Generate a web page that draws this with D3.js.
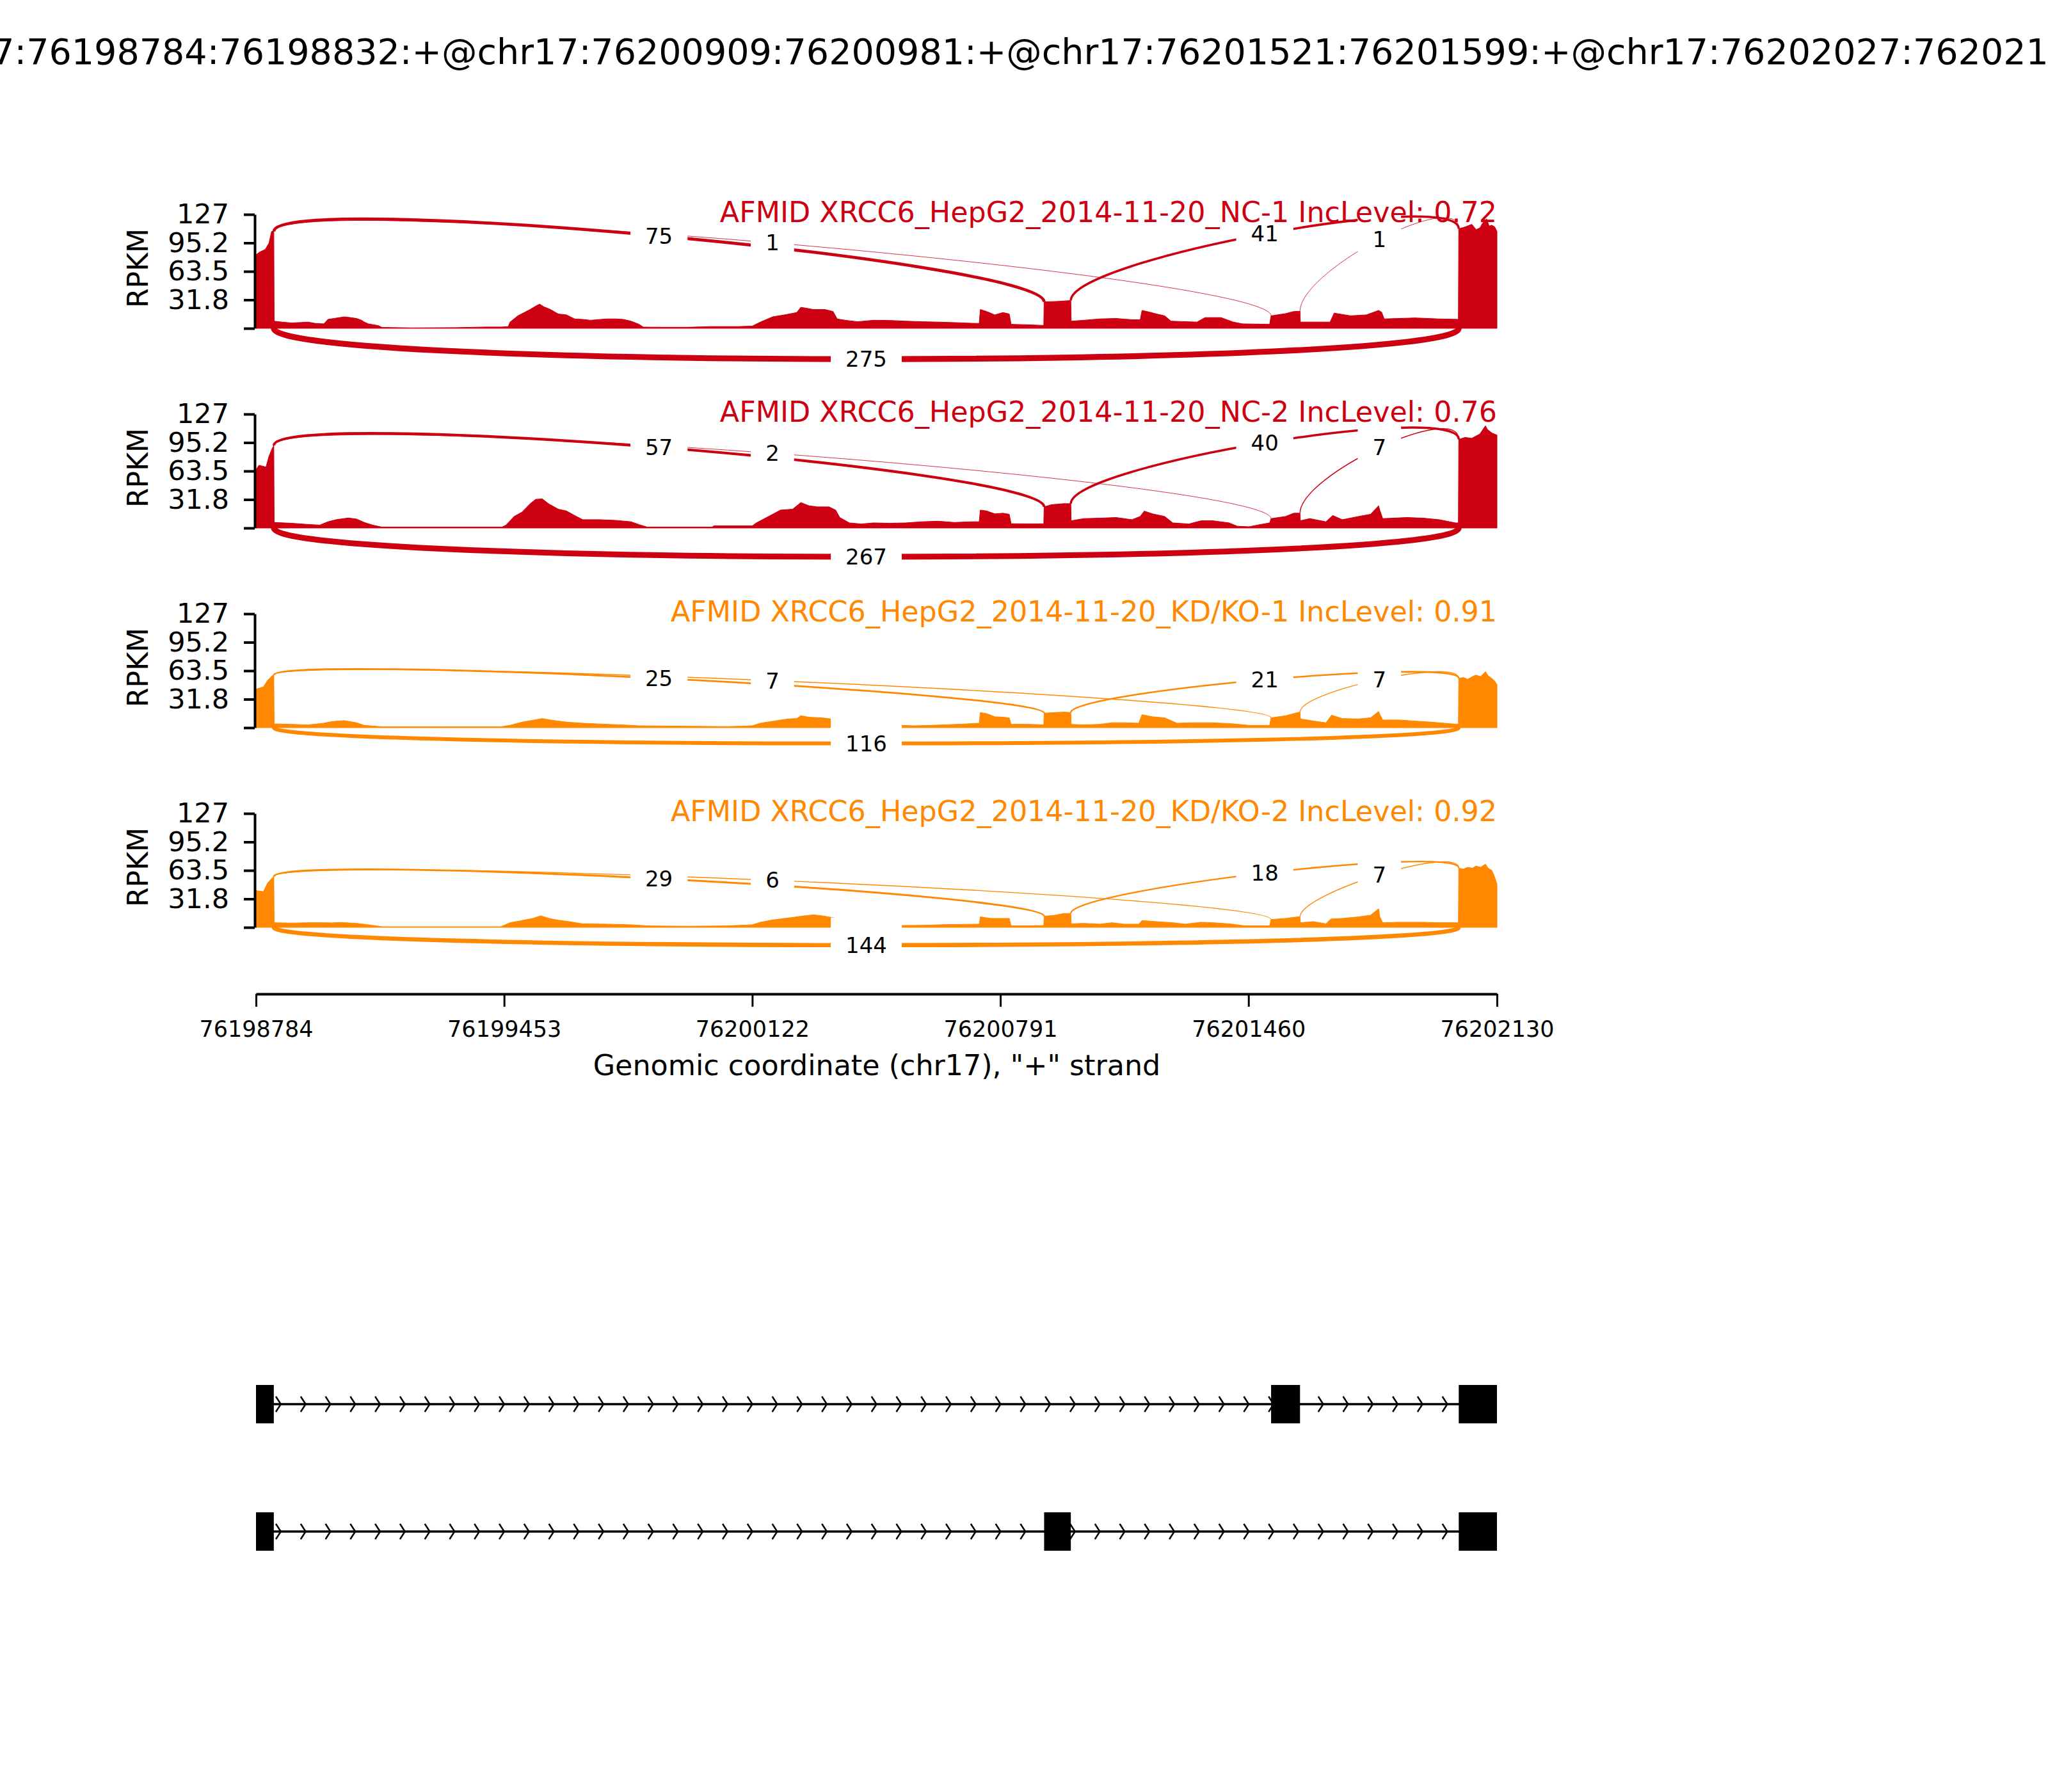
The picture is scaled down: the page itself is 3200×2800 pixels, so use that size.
<!DOCTYPE html>
<html><head><meta charset="utf-8">
<script src="https://cdn.jsdelivr.net/npm/d3@7"></script>
<style>
body{margin:0;background:#fff}
text{font-family:"DejaVu Sans",sans-serif}
</style>
</head><body>
<svg id="c" width="3200" height="2800" xmlns="http://www.w3.org/2000/svg"></svg>
<script>
// ---------------- data ----------------
const START = 76198784, END = 76202130;
const eventTitle = "chr17:76198784:76198832:+@chr17:76200909:76200981:+@chr17:76201521:76201599:+@chr17:76202027:76202130:+";
const exons = [[76198784,76198832],[76200909,76200981],[76201521,76201599],[76202027,76202130]];
const isoformExons = [[0,2,3],[0,1,3]];
const xTickValues = [76198784, 76199453, 76200122, 76200791, 76201460, 76202130];
const yTickValues = [0, 31.75, 63.5, 95.25, 127];
const yTickLabels = ["", "31.8", "63.5", "95.2", "127"];
const sampleNames = ["AFMID XRCC6_HepG2_2014-11-20_NC-1","AFMID XRCC6_HepG2_2014-11-20_NC-2","AFMID XRCC6_HepG2_2014-11-20_KD/KO-1","AFMID XRCC6_HepG2_2014-11-20_KD/KO-2"];
const incLevels = ["0.72","0.76","0.91","0.92"];
const sampleColors = ["#CC0011","#CC0011","#FF8800","#FF8800"];
// junctions: [upstream exon index, downstream exon index, below?]
const junctions = [[0,1,false],[0,2,false],[1,3,false],[2,3,false],[0,3,true]];
const junctionCounts = [
  [75,1,41,1,275],
  [57,2,40,7,267],
  [25,7,21,7,116],
  [29,6,18,7,144]
];
// coverage: [bp offset from START, RPKM]
const covNC1 = [[0,82],[10,85],[25,88],[35,95],[42,108],[48,108],[49,8],[70,7],[96,6],[120,6.5],[140,7],[160,5.5],[183,5],[194,10],[210,11],[238,12.8],[255,12],[271,11],[285,9],[292,7],[303,5],[330,3],[340,1],[420,0.5],[540,0.8],[620,1.5],[663,1.5],[680,2],[685,7],[706,14],[725,18],[739,21],[755,25],[765,27],[776,24],[794,21],[815,16],[837,15],[859,10.5],[880,10],[902,9],[930,10],[946,10.5],[970,10.5],[990,10],[1011,8],[1033,4.5],[1044,1.4],[1100,1.2],[1164,1.2],[1229,2],[1300,2],[1338,2.5],[1360,7],[1393,12.8],[1425,15],[1458,17.6],[1469,23.5],[1490,22],[1502,21],[1534,21],[1556,18.8],[1567,10.5],[1589,9],[1622,7.4],[1665,9],[1709,8.8],[1752,8],[1796,7.4],[1839,7],[1883,6.4],[1927,5.7],[1950,5.5],[1953,21],[1970,18.8],[1992,15],[2014,17.6],[2031,16],[2036,4.5],[2080,4],[2124,3.3],[2125,29.5],[2160,30],[2197,31],[2198,8],[2232,9],[2275,10.5],[2319,11],[2362,9.6],[2384,9.5],[2389,20],[2410,18],[2428,16],[2450,14],[2467,8],[2537,7],[2559,12],[2602,12],[2635,7],[2660,5],[2733,4.5],[2737,14],[2776,16.4],[2798,18.8],[2815,19],[2816,7],[2896,7],[2907,17],[2951,14],[2994,15],[3027,20],[3035,18],[3042,10.5],[3125,11.6],[3190,10.5],[3242,10],[3243,111],[3260,113],[3278,116],[3290,110],[3300,112],[3310,119],[3318,122],[3325,114],[3332,115],[3340,113],[3346,108]];
const covNC2 = [[0,65],[8,70],[27,68],[35,80],[44,89],[48,92],[49,6.2],[96,5.3],[140,4],[172,3.3],[194,7],[216,9.3],[249,11.2],[271,10],[292,6.2],[314,3.3],[340,1],[500,1],[663,1],[674,3.3],[696,12.9],[717,17.7],[739,27],[754,32],[772,32.5],[789,27],[815,21],[837,19],[859,14],[881,9.3],[924,9.3],[968,8.6],[1011,7],[1033,3.8],[1055,1],[1229,1],[1235,2.4],[1338,2.4],[1349,5.7],[1382,12.9],[1414,20],[1447,21],[1469,28.4],[1491,24.8],[1513,23.6],[1545,23.6],[1563,20],[1574,11.7],[1600,5.7],[1632,4.5],[1665,5.7],[1709,5.3],[1752,5.7],[1796,7],[1839,7.6],[1883,6.2],[1927,7],[1950,7],[1953,20],[1970,19],[1992,15.8],[2014,16.5],[2031,15.3],[2036,4.8],[2080,4.6],[2124,4.6],[2125,23.6],[2145,26],[2178,27.2],[2197,27.2],[2198,8.1],[2232,10.5],[2275,11],[2319,11.7],[2362,9.3],[2384,12.9],[2395,18.9],[2417,15.8],[2450,12.9],[2472,5.7],[2515,4.5],[2548,8.1],[2580,8.1],[2624,5.7],[2646,2],[2678,1.4],[2700,3.3],[2733,5.7],[2737,10.5],[2776,12.9],[2798,16.5],[2815,16.5],[2816,8.1],[2841,10.5],[2885,7],[2903,14],[2929,9.3],[2973,12.9],[3005,15.3],[3027,24.8],[3030,20],[3038,10.5],[3103,11.7],[3147,11],[3190,9.3],[3234,5.7],[3242,5.7],[3243,98.8],[3260,101],[3278,100],[3300,104.8],[3315,114],[3320,110],[3332,106],[3346,103.6]];
const covKD1 = [[0,43],[20,45.5],[31,52.7],[44,58],[48,58.6],[49,4.3],[96,3.8],[140,3.1],[183,5],[205,6.9],[238,7.9],[271,5.5],[292,2.6],[340,1],[500,1],[660,1],[685,2.6],[717,6.2],[750,8.6],[772,10.2],[794,8.6],[837,6.2],[881,5],[946,3.8],[990,3.1],[1033,2.1],[1142,1.7],[1273,1.2],[1338,2.1],[1360,5],[1404,7.9],[1436,9.8],[1458,10.2],[1469,13.3],[1491,11.7],[1524,11],[1543,10.2],[1580,8],[1640,5],[1700,3],[1741,2.6],[1774,2.1],[1818,2.6],[1861,3.3],[1905,4],[1950,5],[1953,16.9],[1970,15.7],[1992,12.2],[2014,11.7],[2031,11],[2036,3.8],[2080,3.8],[2124,3.3],[2125,16.2],[2155,16.9],[2178,17.4],[2197,16.9],[2198,3.8],[2232,3.1],[2275,3.8],[2308,5.5],[2341,5.5],[2380,5],[2389,14.5],[2417,12.2],[2450,11],[2483,5],[2526,5.5],[2580,5.5],[2635,4.3],[2678,2.6],[2733,2.6],[2737,11],[2776,13.3],[2809,16.9],[2815,17.4],[2816,9.8],[2853,7.4],[2885,5.5],[2900,14],[2929,10.2],[2973,9.8],[3005,11],[3027,18.1],[3030,15],[3038,8.6],[3082,8.6],[3125,7.4],[3169,6.2],[3234,4],[3242,4],[3243,55],[3255,56],[3267,54],[3280,57],[3289,58.6],[3302,57],[3315,62.5],[3322,58],[3332,55],[3340,52],[3346,48]];
const covKD2 = [[0,41],[20,39.8],[31,49.3],[44,55.3],[48,56.5],[49,5.2],[96,4.8],[140,5.2],[183,5.2],[205,5],[227,5.5],[271,4.5],[303,2.9],[340,0.7],[500,0.7],[660,0.7],[685,5.2],[717,7.6],[746,10],[768,12.9],[790,10],[815,8],[837,6.9],[881,4],[946,3.6],[1011,2.9],[1055,1.7],[1164,1.2],[1273,1.7],[1338,2.9],[1360,5.7],[1393,8.3],[1425,10],[1458,11.7],[1469,12.4],[1502,14],[1524,13.1],[1543,11.7],[1580,9],[1640,6],[1700,3],[1741,2.1],[1796,2.3],[1861,3.1],[1905,3.3],[1950,3.6],[1953,11.7],[1980,10],[2014,10],[2031,10],[2036,1.7],[2080,1.7],[2124,2.1],[2125,12.4],[2155,13.6],[2178,15.5],[2197,15.5],[2198,4],[2232,4.5],[2275,3.6],[2308,5.2],[2341,3.6],[2380,3.6],[2389,7.6],[2428,6.4],[2472,5.2],[2505,3.6],[2548,5.7],[2580,5.2],[2624,4],[2667,1.7],[2733,1.7],[2737,8.8],[2776,10],[2809,11.7],[2815,11.7],[2816,5.2],[2851,6.4],[2885,4],[2898,9.3],[2929,10],[2973,11.7],[3005,13.6],[3027,20.7],[3030,12],[3038,5.2],[3082,5.7],[3147,5.7],[3190,5.2],[3234,5.2],[3242,5.2],[3243,66],[3255,65],[3267,67],[3280,66],[3289,68.4],[3302,67],[3315,70.5],[3322,66],[3332,63.6],[3340,56],[3346,48]];
const coverages = [covNC1, covNC2, covKD1, covKD2];

// ---------------- layout ----------------
const svg = d3.select("#c");
const FONT = '"DejaVu Sans", sans-serif';
const x = d3.scaleLinear().domain([START, END]).range([400, 2339]);
const panelTops = [335, 647, 959, 1271];
const panelH = 178;

svg.append("text").attr("x", 1600).attr("y", 100).attr("text-anchor", "middle")
  .attr("font-size", 55.5).text(eventTitle);

function lookup(cov, pos) {
  const off = pos - START;
  for (let i = 0; i < cov.length; i++) if (cov[i][0] === off) return cov[i][1];
  for (let i = 0; i < cov.length - 1; i++) {
    if (cov[i][0] <= off && off <= cov[i+1][0]) {
      const t = (off - cov[i][0]) / (cov[i+1][0] - cov[i][0]);
      return cov[i][1] + t * (cov[i+1][1] - cov[i][1]);
    }
  }
  return 0;
}

const titleLayer = [];
coverages.forEach((cov, i) => {
  const top = panelTops[i];
  const y = d3.scaleLinear().domain([0, 127]).range([top + panelH, top]);
  const color = sampleColors[i];
  const g = svg.append("g");
  const pts = cov.map(d => [START + d[0], d[1]]);
  g.append("path").datum(pts)
    .attr("d", d3.area().x(d => x(d[0])).y0(y(0)).y1(d => y(d[1])))
    .attr("fill", color).attr("stroke", color).attr("stroke-width", 1);

  // y axis
  const ax = g.append("g").attr("transform", "translate(398,0)")
    .call(d3.axisLeft(y).tickValues(yTickValues).tickFormat((d, k) => yTickLabels[k])
      .tickSize(17).tickSizeOuter(0).tickPadding(23));
  ax.select(".domain").attr("stroke", "#000").attr("stroke-width", 4);
  ax.selectAll(".tick line").attr("stroke", "#000").attr("stroke-width", 4);
  ax.selectAll(".tick text").attr("font-size", 43).attr("font-family", FONT).attr("fill", "#000");

  g.append("text").attr("transform", `translate(231,${top + 84}) rotate(-90)`)
    .attr("text-anchor", "middle").attr("font-size", 44).text("RPKM");

  titleLayer.push({top, color, text: sampleNames[i] + " IncLevel: " + incLevels[i]});

  // junction arcs
  const ymaxCov = d3.max(cov, d => d[1]);
  const h = 0.375 * ymaxCov;
  const labels = [];
  junctions.forEach((jn, k) => {
    const n = junctionCounts[i][k];
    const ss1 = exons[jn[0]][1], ss2 = exons[jn[1]][0];
    let yv;
    if (jn[2]) yv = [0, -h, -h, 0];
    else {
      const l = lookup(cov, ss1), r = lookup(cov, ss2);
      yv = [l, l + h, r + h, r];
    }
    const X0 = x(ss1), X1 = x(ss2);
    const Y = yv.map(v => y(v));
    const p = d3.path();
    p.moveTo(X0, Y[0]);
    p.bezierCurveTo(X0, Y[1], X1, Y[2], X1, Y[3]);
    g.append("path").attr("d", p.toString()).attr("fill", "none")
      .attr("stroke", color).attr("stroke-width", Math.max(0.8, 0.55 * Math.sqrt(n)));
    labels.push({x: (X0 + X1) / 2, y: (Y[0] + 3 * Y[1] + 3 * Y[2] + Y[3]) / 8, n});
  });
  labels.forEach(L => {
    const lg = g.append("g");
    const t = lg.append("text").attr("x", L.x).attr("y", L.y).attr("text-anchor", "middle")
      .attr("dominant-baseline", "central").attr("font-size", 34).text(L.n);
    const w = t.node().getComputedTextLength();
    const pad = 23, th = 40;
    lg.insert("rect", "text").attr("x", L.x - w / 2 - pad).attr("y", L.y - th / 2 - pad)
      .attr("width", w + 2 * pad).attr("height", th + 2 * pad).attr("fill", "#fff");
  });
});

// panel titles on top of everything in the panels
titleLayer.forEach(T => {
  svg.append("text").attr("x", 2339).attr("y", T.top + 12).attr("text-anchor", "end")
    .attr("font-size", 44.4).attr("fill", T.color).text(T.text);
});

// x axis
const xa = svg.append("g").attr("transform", "translate(0,1553)")
  .call(d3.axisBottom(x).tickValues(xTickValues).tickFormat(d3.format("d"))
    .tickSize(20).tickSizeOuter(0).tickPadding(22));
xa.select(".domain").attr("stroke", "#000").attr("stroke-width", 4);
xa.selectAll(".tick line").attr("stroke", "#000").attr("stroke-width", 3);
xa.selectAll(".tick text").attr("font-size", 35).attr("font-family", FONT).attr("fill", "#000");
svg.append("text").attr("x", 1370).attr("y", 1680).attr("text-anchor", "middle")
  .attr("font-size", 44.4).text('Genomic coordinate (chr17), "+" strand');

// gene structures
const trackY = [2194, 2393];
const exonH = 60;
const narrows = 50;
const span = END - START;
const spread = 0.2 * span / narrows;
isoformExons.forEach((iso, k) => {
  const yc = trackY[k];
  const g = svg.append("g");
  const ex = iso.map(e => exons[e]);
  g.append("line").attr("x1", x(ex[0][0])).attr("x2", x(ex[ex.length - 1][1]))
    .attr("y1", yc).attr("y2", yc).attr("stroke", "#000").attr("stroke-width", 3.5);
  const minsize = ex[0][0], maxsize = ex[ex.length - 1][1];
  for (let i = 0; i < narrows; i++) {
    const loc = START + i * span / narrows;
    if (loc - spread >= minsize && loc - spread <= maxsize) {
      g.append("path")
        .attr("d", `M${x(loc - spread)},${yc - exonH / 5}L${x(loc)},${yc}L${x(loc - spread)},${yc + exonH / 5}`)
        .attr("fill", "none").attr("stroke", "#000").attr("stroke-width", 2.5);
    }
  }
  g.selectAll("rect.exon").data(ex).enter().append("rect")
    .attr("x", d => x(d[0])).attr("width", d => x(d[1]) - x(d[0]))
    .attr("y", yc - exonH / 2).attr("height", exonH).attr("fill", "#000");
});
</script>
</body></html>
